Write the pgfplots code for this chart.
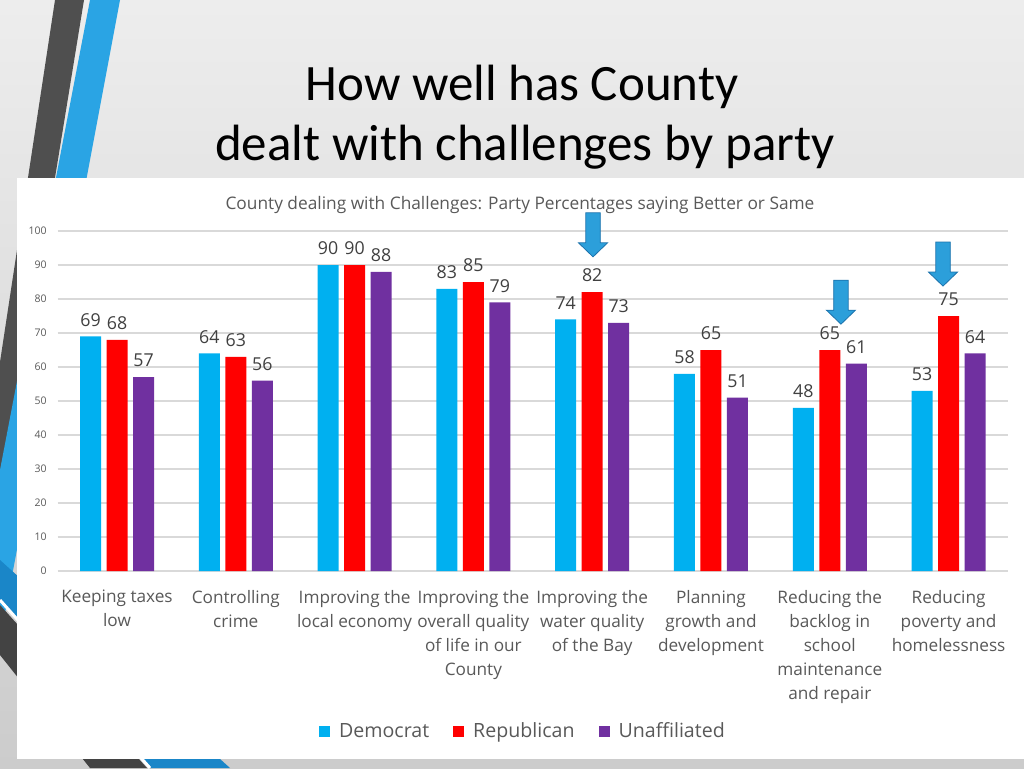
\documentclass[border=0pt]{standalone}
\usepackage{pgfplots}
\pgfplotsset{compat=1.18}
\usepackage{fontspec}
\setmainfont{Open Sans}
\newfontfamily\titlefont{Carlito}
\definecolor{dem}{HTML}{00B0F0}
\definecolor{rep}{HTML}{FF0000}
\definecolor{una}{HTML}{7030A0}
\definecolor{txt}{HTML}{595959}
\definecolor{lab}{HTML}{404040}
\definecolor{gridc}{HTML}{D9D9D9}
\definecolor{arrowfill}{HTML}{2C9FDA}
\definecolor{arrowedge}{HTML}{1B72AC}
\definecolor{darkstripe}{HTML}{4F4F4F}
\definecolor{bluestripe}{HTML}{2AA4E4}
\definecolor{bluedeep}{HTML}{1A86C8}
\tikzset{downarrow/.style={fill=arrowfill, draw=arrowedge, line width=0.4pt}}
\newcommand{\arrowshape}{-- ++(-7.25pt,7pt) -- ++(3.625pt,0pt) -- ++(0pt,15pt) -- ++(7.25pt,0pt) -- ++(0pt,-15pt) -- ++(3.625pt,0pt) -- cycle}

\begin{document}
\begin{tikzpicture}
\useasboundingbox (0,0) rectangle (512pt,384pt);
\begin{scope}[shift={(0pt,384pt)},x=0.5pt,y=-0.5pt]
\shade[top color=white!93!black, bottom color=white!80!black] (0,0) rectangle (1024,768);
\fill[darkstripe] (55,0) -- (84,0) -- (0,515) -- (0,362) -- cycle;
\fill[bluestripe] (90,0) -- (120,0) -- (0,640) -- (0,470) -- cycle;
\fill[bluedeep] (0,560) -- (0,600) -- (150,768) -- (230,768) -- cycle;
\draw[white, line width=1.5pt] (0,600) -- (150,768);
\fill[darkstripe!85!black] (0,605) -- (0,655) -- (90,768) -- (147,768) -- cycle;
\fill[white] (17,178) rectangle (1024,759);
\node[anchor=base, font=\titlefont\fontsize{25.5}{30}\selectfont] at (522,100) {How well has County};
\node[anchor=base, font=\titlefont\fontsize{25.5}{30}\selectfont] at (525,160) {dealt with challenges by party};
\node[anchor=base, text=txt, font=\fontsize{8.65}{10}\selectfont] at (520,209) {County dealing with Challenges: Party Percentages saying Better or Same};
\end{scope}
\begin{axis}[
  at={(28.8pt,98.5pt)}, anchor=south west,
  scale only axis, width=475.2pt, height=170pt,
  ybar=2.75pt, bar width=10.5pt,
  xmin=-0.5, xmax=7.5, ymin=0, ymax=100,
  ytick={0,10,...,100},
  xtick=data,
  xticklabels={{Keeping taxes\\low},{Controlling\\crime},{Improving the\\local economy},{Improving the\\overall quality\\of life in our\\County},{Improving the\\water quality\\of the Bay},{Planning\\growth and\\development},{Reducing the\\backlog in\\school\\maintenance\\and repair},{Reducing\\poverty and\\homelessness}},
  xticklabel style={font=\fontsize{8.6}{12}\selectfont, text=txt, align=center, anchor=north, yshift=-6pt},
  yticklabel style={font=\fontsize{5.25}{6}\selectfont, text=txt, xshift=-2pt},
  /pgf/number format/assume math mode=true,
  major tick length=0pt,
  axis line style={draw=none},
  ymajorgrids, grid style={gridc, line width=0.6pt},
  clip=false,
  nodes near coords,
  every node near coord/.append style={font=\fontsize{8.9}{10}\selectfont, text=lab, yshift=1.5pt},
  legend columns=3,
  legend style={at={(0.4907,-0.4735)}, anchor=center, draw=none, fill=none,
     font=\fontsize{9.8}{12}\selectfont, text=txt,
     /tikz/every odd column/.append style={column sep=2.5pt},
     /tikz/every even column/.append style={column sep=10pt}},
  legend image code/.code={\fill[#1,draw=none] (0pt,-2.6pt) rectangle (5.5pt,2.9pt);},
]
\addplot[fill=dem, draw=none] coordinates {(0,69) (1,64) (2,90) (3,83) (4,74) (5,58) (6,48) (7,53)};
\addplot[fill=rep, draw=none] coordinates {(0,68) (1,63) (2,90) (3,85) (4,82) (5,65) (6,65) (7,75)};
\addplot[fill=una, draw=none] coordinates {(0,57) (1,56) (2,88) (3,79) (4,73) (5,51) (6,61) (7,64)};
\legend{Democrat, Republican, Unaffiliated}
\filldraw[downarrow] (axis cs:4.007,92.4) \arrowshape;
\filldraw[downarrow] (axis cs:6.094,72.6) \arrowshape;
\filldraw[downarrow] (axis cs:6.953,83.8) \arrowshape;
\end{axis}
\end{tikzpicture}
\end{document}
